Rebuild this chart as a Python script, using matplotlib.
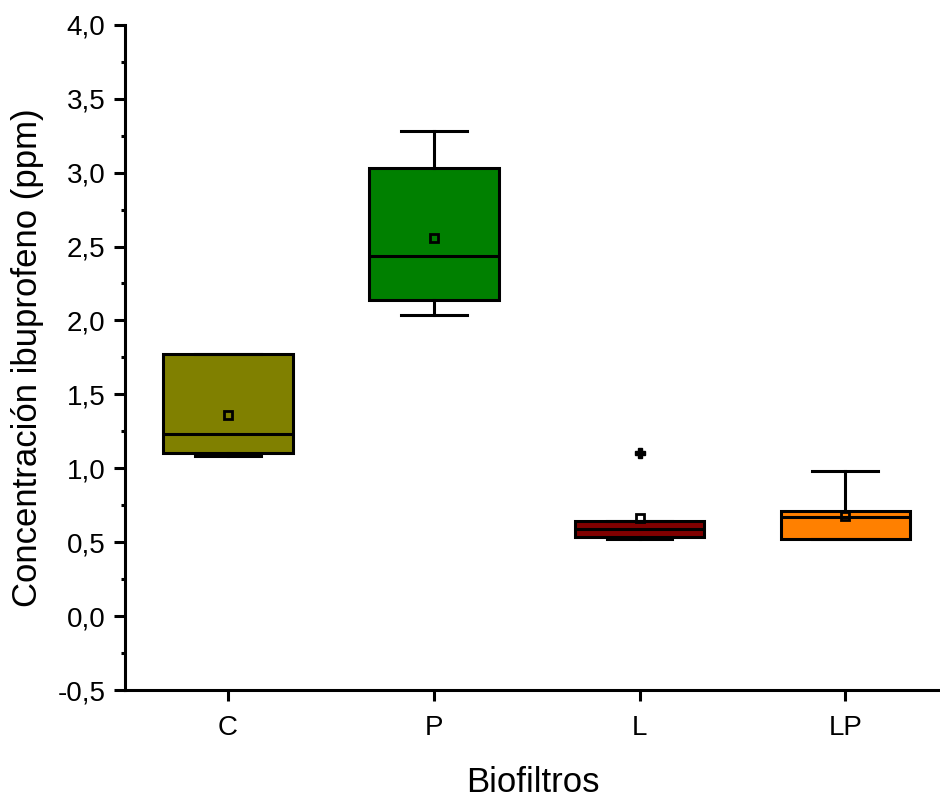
import matplotlib.pyplot as plt
from matplotlib.ticker import FuncFormatter, MultipleLocator

# Box statistics (ppm)
labels = ['C', 'P', 'L', 'LP']
colors = ['#808000', '#008000', '#800000', '#FF8000']
q1 = [1.10, 2.14, 0.535, 0.52]
med = [1.235, 2.435, 0.59, 0.67]
q3 = [1.775, 3.03, 0.645, 0.71]
wlo = [1.08, 2.035, 0.52, 0.52]
whi = [1.775, 3.28, 0.645, 0.98]
means = [1.36, 2.555, 0.665, 0.675]
outliers = [[], [], [1.10], []]

plt.rcParams['font.family'] = ['Liberation Sans', 'DejaVu Sans']

fig = plt.figure(figsize=(9.4, 8), dpi=100)
ax = fig.add_axes([0.133, 0.1375, 0.867, 0.8315])

stats = []
for i in range(len(labels)):
    stats.append(dict(label=labels[i], q1=q1[i], med=med[i], q3=q3[i],
                      whislo=wlo[i], whishi=whi[i], mean=means[i],
                      fliers=outliers[i]))

lw = 2.2
bp = ax.bxp(stats, positions=[1, 2, 3, 4], widths=0.63, patch_artist=True,
            showmeans=True, showfliers=True, capwidths=0.32,
            boxprops=dict(linewidth=lw, edgecolor='black'),
            medianprops=dict(color='black', linewidth=lw),
            whiskerprops=dict(color='black', linewidth=lw),
            capprops=dict(color='black', linewidth=lw),
            meanprops=dict(marker='s', markersize=6, markerfacecolor='none',
                           markeredgecolor='black', markeredgewidth=2),
            flierprops=dict(marker='P', markersize=7, markerfacecolor='black',
                            markeredgecolor='black'))
for patch, c in zip(bp['boxes'], colors):
    patch.set_facecolor(c)

ax.set_xlim(0.5, 4.46)
ax.set_ylim(-0.5, 4.0)
ax.yaxis.set_major_locator(MultipleLocator(0.5))
ax.yaxis.set_minor_locator(MultipleLocator(0.25))
ax.yaxis.set_major_formatter(FuncFormatter(lambda v, p: ('%.1f' % v).replace('.', ',')))

for s in ['top', 'right']:
    ax.spines[s].set_visible(False)
for s in ['left', 'bottom']:
    ax.spines[s].set_linewidth(2.2)

ax.tick_params(axis='both', which='major', direction='out', length=8, width=2.2,
               labelsize=20, pad=6)
ax.tick_params(axis='x', which='major', pad=10)
ax.tick_params(axis='y', which='minor', direction='out', length=3, width=2.2)
ax.tick_params(axis='x', which='minor', bottom=False)

ax.set_xlabel('Biofiltros', fontsize=25, labelpad=18)
ax.set_ylabel('Concentración ibuprofeno (ppm)', fontsize=25, labelpad=10)

plt.savefig('out.png', dpi=100)
